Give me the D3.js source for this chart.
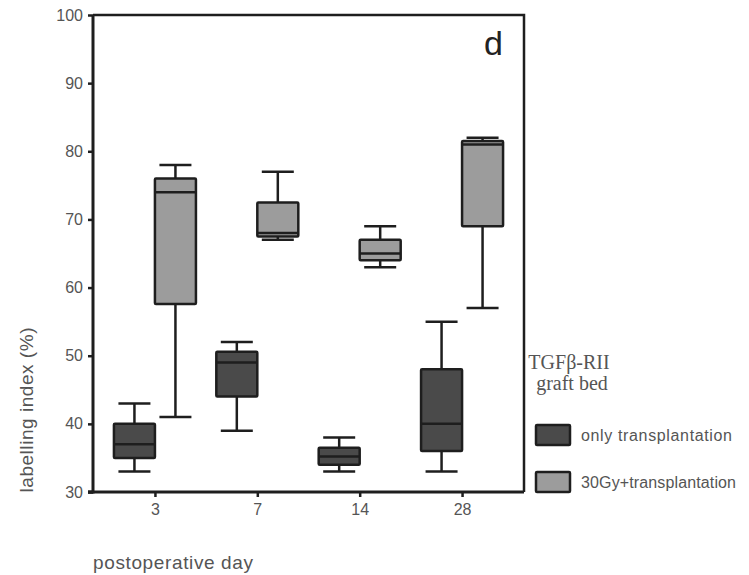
<!DOCTYPE html>
<html>
<head>
<meta charset="utf-8">
<script src="https://cdn.jsdelivr.net/npm/d3@7"></script>
<style>
  body { margin: 0; background: #fff; }
  text { font-family: "Liberation Sans", Arial, sans-serif; fill: #555; }
</style>
</head>
<body>
<div id="canvas"></div>
<script>
// Data
var days = ["3", "7", "14", "28"]
var groups = ["only transplantation", "30Gy+transplantation"]
var y_ticks = [30, 40, 50, 60, 70, 80, 90, 100]
var only_min = [33, 39, 33, 33]
var only_q1 = [35, 44, 34, 36]
var only_med = [37, 49, 35.2, 40]
var only_q3 = [40, 50.6, 36.5, 48]
var only_max = [43, 52, 38, 55]
var gy_min = [41, 67, 63, 57]
var gy_q1 = [57.6, 67.5, 64, 69]
var gy_med = [74, 68, 65, 81]
var gy_q3 = [76, 72.5, 67, 81.5]
var gy_max = [78, 77, 69, 82]

// Display variables
var total_width = 749, total_height = 575
var margin = {top: 15, right: 225, bottom: 83, left: 93}
var width = total_width - margin.left - margin.right
var height = total_height - margin.top - margin.bottom
var colours = ["#4a4a4a", "#9c9c9c"]
var stroke_col = "#1e1e1e"
var cap_width = 32

var svg = d3.select("#canvas").append("svg").attr("width", total_width).attr("height", total_height)
    .append("g").attr("transform", "translate(" + margin.left + "," + margin.top + ")")

// Scales
var x = d3.scalePoint().domain(days).range([0, width]).padding(0.605)
var sub = d3.scaleBand().domain(groups).range([-41, 41])
var y = d3.scaleLinear().domain([30, 100]).range([height, 0])

// Build rows for the boxes
var rows = []
days.forEach(function(d, i) {
    rows.push({day: d, g: groups[0], c: colours[0], min: only_min[i], q1: only_q1[i], med: only_med[i], q3: only_q3[i], max: only_max[i]})
    rows.push({day: d, g: groups[1], c: colours[1], min: gy_min[i], q1: gy_q1[i], med: gy_med[i], q3: gy_q3[i], max: gy_max[i]})
})

// Box plots
var bw = sub.bandwidth()
var boxes = svg.selectAll(".box").data(rows).enter().append("g")
    .attr("class", "box")
    .attr("transform", d => "translate(" + (x(d.day) + sub(d.g)) + ",0)")
    .attr("stroke", stroke_col).attr("stroke-width", 2.5)
boxes.append("line").attr("x1", bw/2).attr("x2", bw/2).attr("y1", d => y(d.max)).attr("y2", d => y(d.min))
boxes.append("line").attr("x1", bw/2 - cap_width/2).attr("x2", bw/2 + cap_width/2).attr("y1", d => y(d.max)).attr("y2", d => y(d.max))
boxes.append("line").attr("x1", bw/2 - cap_width/2).attr("x2", bw/2 + cap_width/2).attr("y1", d => y(d.min)).attr("y2", d => y(d.min))
boxes.append("rect").attr("x", 0).attr("width", bw)
    .attr("y", d => y(d.q3)).attr("height", d => y(d.q1) - y(d.q3))
    .attr("fill", d => d.c).attr("rx", 1)
boxes.append("line").attr("x1", 0).attr("x2", bw).attr("y1", d => y(d.med)).attr("y2", d => y(d.med))

// Frame (top and right)
svg.append("path").attr("d", "M0,0H" + width + "V" + height)
    .attr("fill", "none").attr("stroke", stroke_col).attr("stroke-width", 2.5)

// Axes
var y_axis = svg.append("g").call(d3.axisLeft(y).tickValues(y_ticks).tickSize(5).tickPadding(5))
var x_axis = svg.append("g").attr("transform", "translate(0," + height + ")")
    .call(d3.axisBottom(x).tickSize(5).tickPadding(7))
;[y_axis, x_axis].forEach(function(a) {
    a.select(".domain").attr("stroke", stroke_col).attr("stroke-width", 3)
    a.selectAll(".tick line").attr("stroke", stroke_col).attr("stroke-width", 2.5)
    a.selectAll("text").attr("fill", "#555").style("font-size", "16px").style("font-family", "'Liberation Sans', Arial, sans-serif")
})
y_axis.select(".domain").attr("d", "M-5," + y(30) + "H0V0")
x_axis.select(".domain").attr("d", "M-5,0H" + width)

// Labels
svg.append("text")
    .attr("transform", "translate(" + (33 - margin.left) + "," + (height - 82) + ") rotate(-90)")
    .attr("text-anchor", "middle").style("font-size", "19px").attr("textLength", 165)
    .text("labelling index (%)")
svg.append("text").attr("x", 0).attr("y", height + 77)
    .style("font-size", "19px").attr("textLength", 160)
    .text("postoperative day")
svg.append("text").attr("x", width - 21).attr("y", 40)
    .attr("text-anchor", "end").style("font-size", "34px").style("fill", "#222")
    .text("d")

// Legend
var legend = svg.append("g").attr("transform", "translate(" + (width + 12) + ",0)")
legend.append("text").attr("x", 33).attr("y", 354).attr("text-anchor", "middle")
    .style("font-family", "'Liberation Serif', 'Times New Roman', serif").style("font-size", "20px")
    .text("TGFβ-RII")
legend.append("text").attr("x", 36).attr("y", 375).attr("text-anchor", "middle")
    .style("font-family", "'Liberation Serif', 'Times New Roman', serif").style("font-size", "20px")
    .text("graft bed")
var items = legend.selectAll(".item").data(groups).enter().append("g")
    .attr("transform", (d, i) => "translate(0," + (410 + i * 47) + ")")
items.append("rect").attr("width", 34).attr("height", 20).attr("rx", 1)
    .attr("fill", (d, i) => colours[i]).attr("stroke", stroke_col).attr("stroke-width", 2.5)
items.append("text").attr("x", 45).attr("y", 15.5).style("font-size", "16px")
    .attr("textLength", (d, i) => i == 0 ? 151 : 155)
    .text(d => d)
</script>
</body>
</html>
